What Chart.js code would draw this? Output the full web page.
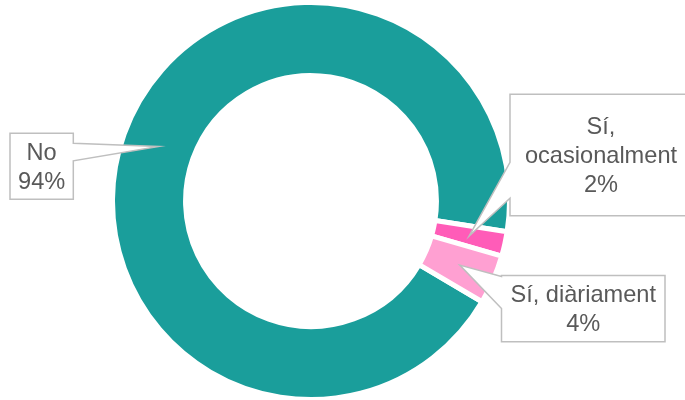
<!DOCTYPE html>
<html>
<head>
<meta charset="utf-8">
<script src="https://cdn.jsdelivr.net/npm/chart.js@4/dist/chart.umd.min.js"></script>
<style>
  html, body { margin: 0; padding: 0; background: #ffffff; }
  #wrap { width: 685px; height: 400px; position: relative; }
</style>
</head>
<body>
<div id="wrap"><canvas id="c" width="685" height="400"></canvas></div>
<script>
const categories = ['No', 'Sí, ocasionalment', 'Sí, diàriament'];
const values = [94, 2, 4];
const sliceColors = ['#1A9E9B', '#FF5CB8', '#FFA0D2'];

// Callout box layout (pixels) for each category, in the same order
const calloutBoxes = [
  { x: 10,    y: 133.3, w: 63.3,  h: 66,    side: 'right', b1: 10,  b2: 27.5 },
  { x: 510,   y: 94.3,  w: 182,   h: 121.4, side: 'left',  b1: 68,  b2: 104 },
  { x: 501.5, y: 275.5, w: 163.5, h: 66.2,  side: 'left',  b1: 1,   b2: 33 }
];

const calloutPlugin = {
  id: 'callouts',
  afterDatasetsDraw(chart) {
    const ctx = chart.ctx;
    const meta = chart.getDatasetMeta(0);
    ctx.save();
    ctx.font = '23.6px "Liberation Sans", Arial, sans-serif';
    meta.data.forEach((arc, i) => {
      const box = calloutBoxes[i];
      const tip = arc.tooltipPosition();
      const { x, y, w, h } = box;
      ctx.beginPath();
      if (box.side === 'right') {
        ctx.moveTo(x, y);
        ctx.lineTo(x + w, y);
        ctx.lineTo(x + w, y + box.b1);
        ctx.lineTo(tip.x, tip.y);
        ctx.lineTo(x + w, y + box.b2);
        ctx.lineTo(x + w, y + h);
        ctx.lineTo(x, y + h);
        ctx.closePath();
      } else {
        ctx.moveTo(x, y);
        ctx.lineTo(x + w, y);
        ctx.lineTo(x + w, y + h);
        ctx.lineTo(x, y + h);
        ctx.lineTo(x, y + box.b2);
        ctx.lineTo(tip.x, tip.y);
        ctx.lineTo(x, y + box.b1);
        ctx.closePath();
      }
      ctx.fillStyle = '#ffffff';
      ctx.fill();
      ctx.lineWidth = 1.5;
      ctx.strokeStyle = '#BFBFBF';
      ctx.lineJoin = 'miter';
      ctx.stroke();

      // word-wrap label text into the box
      const maxW = w - 12;
      const words = categories[i].split(' ');
      const lines = [];
      let cur = '';
      words.forEach(wd => {
        const test = cur ? cur + ' ' + wd : wd;
        if (cur && ctx.measureText(test).width > maxW) {
          lines.push(cur);
          cur = wd;
        } else {
          cur = test;
        }
      });
      if (cur) lines.push(cur);
      lines.push(values[i] + '%');

      const lh = 29;
      const cx = x + w / 2;
      const cy = y + h / 2 + 1.5;
      ctx.fillStyle = '#595959';
      ctx.textAlign = 'center';
      ctx.textBaseline = 'middle';
      const startY = cy - (lines.length - 1) * lh / 2;
      lines.forEach((ln, k) => ctx.fillText(ln, cx, startY + k * lh));
    });
    ctx.restore();
  }
};

new Chart(document.getElementById('c'), {
  type: 'doughnut',
  data: {
    labels: categories,
    datasets: [{
      data: values,
      backgroundColor: sliceColors,
      borderColor: '#ffffff',
      borderWidth: 5,
      hoverOffset: 0
    }]
  },
  options: {
    responsive: false,
    animation: false,
    rotation: 120.5,
    cutout: '63.2%',
    radius: 198.5,
    layout: { padding: { left: 0, right: 63, top: 2, bottom: 0 } },
    plugins: {
      legend: { display: false },
      tooltip: { enabled: false }
    }
  },
  plugins: [calloutPlugin]
});
</script>
</body>
</html>
